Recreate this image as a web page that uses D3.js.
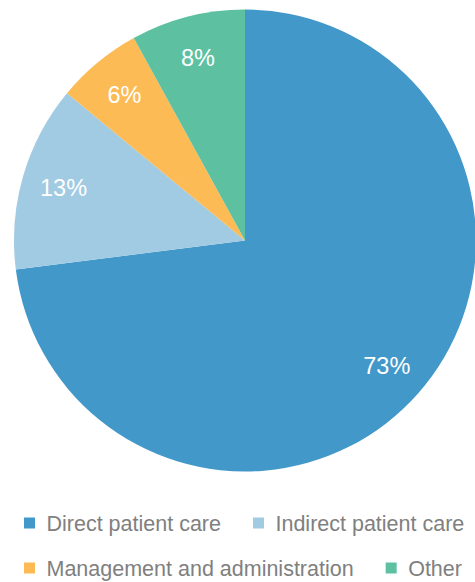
<!DOCTYPE html>
<html>
<head>
<meta charset="utf-8">
<script src="https://cdn.jsdelivr.net/npm/d3@7"></script>
<style>
  html, body { margin: 0; padding: 0; background: #ffffff; }
  svg { display: block; }
</style>
</head>
<body>
<svg id="chart" width="475" height="582"></svg>
<script>
// Share of working time by activity
const categories = ["Direct patient care", "Indirect patient care", "Management and administration", "Other"];
const shares = [73, 13, 6, 8];
const labels = ["73%", "13%", "6%", "8%"];
const palette = ["#4398ca", "#a1cae3", "#fdbb55", "#5dc1a1"];

const width = 475, height = 582;
const cx = 245, cy = 240.5, radius = 231;

const svg = d3.select("#chart");
const font = "'Liberation Sans', Arial, Helvetica, sans-serif";

const color = d3.scaleOrdinal().domain(categories).range(palette);

const pie = d3.pie().sort(null).value(d => d.value).startAngle(0).endAngle(2 * Math.PI);
const data = categories.map((c, i) => ({ name: c, value: shares[i], label: labels[i] }));
const arcs = pie(data);

const arc = d3.arc().innerRadius(0).outerRadius(radius);
const labelArc = d3.arc().innerRadius(189).outerRadius(189);

const g = svg.append("g").attr("transform", `translate(${cx},${cy})`);

g.selectAll("path.slice")
  .data(arcs)
  .join("path")
  .attr("class", "slice")
  .attr("d", arc)
  .attr("fill", d => color(d.data.name));

g.selectAll("text.value")
  .data(arcs)
  .join("text")
  .attr("class", "value")
  .attr("transform", d => `translate(${labelArc.centroid(d)})`)
  .attr("text-anchor", "middle")
  .attr("dy", "0.36em")
  .attr("font-family", font)
  .attr("font-size", 23.5)
  .attr("fill", "#ffffff")
  .text(d => d.data.label);

// Legend: flowing rows of swatch + label
const legend = svg.append("g").attr("class", "legend");
const rowY = [523, 568];
const startX = 24, gap = 32, swatch = 11, textOffset = 22.5, maxX = 474;
let x = startX, row = 0;
data.forEach(d => {
  const item = legend.append("g");
  const t = item.append("text")
    .attr("font-family", font)
    .attr("font-size", 21.5)
    .attr("fill", "#808080")
    .attr("dy", "0.35em")
    .text(d.name);
  const w = t.node().getComputedTextLength();
  if (x !== startX && x + textOffset + w > maxX) { row += 1; x = startX; }
  item.attr("transform", `translate(${x},${rowY[row]})`);
  item.insert("rect", "text")
    .attr("x", 0).attr("y", -swatch / 2)
    .attr("width", swatch).attr("height", swatch)
    .attr("fill", color(d.name));
  t.attr("x", textOffset);
  x += textOffset + w + gap;
});
</script>
</body>
</html>
